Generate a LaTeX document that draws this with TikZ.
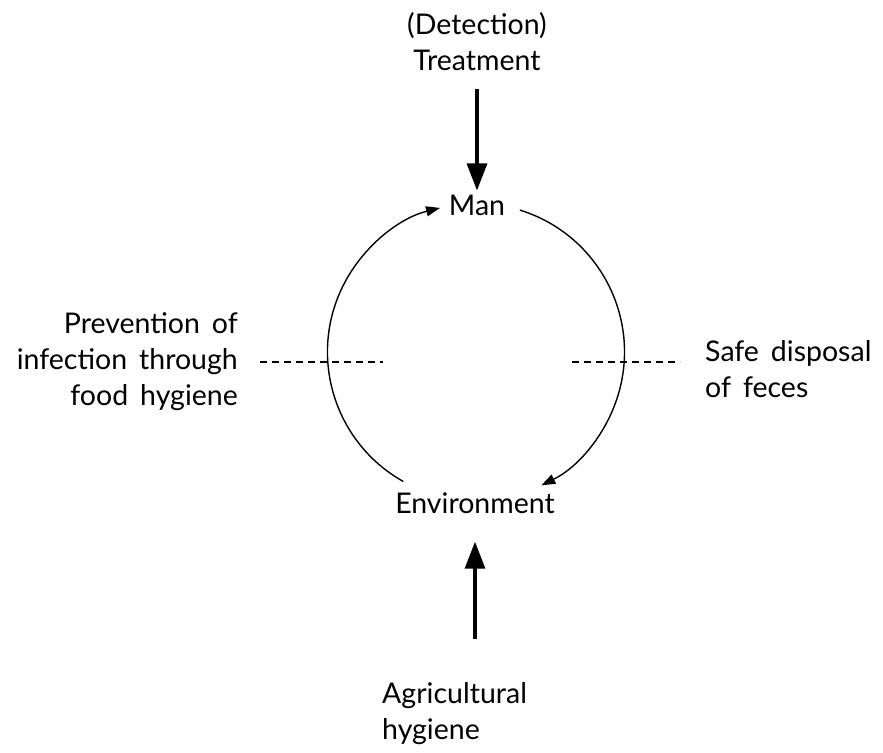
\documentclass[tikz,border=0pt]{standalone}
\usepackage{fontspec}
\setmainfont{Lato}
\usetikzlibrary{arrows.meta}
\newcommand\lblfont{\fontsize{28.5}{36}\selectfont\spaceskip=0.42em\relax}

\begin{document}
\begin{tikzpicture}[x=1pt, y=1pt,
    lbl/.style={font=\lblfont, inner sep=2pt},
    bigarrow/.style={line width=3.2pt, -{Triangle[length=27pt, width=20pt]}},
    cyclearrow/.style={line width=1.4pt, -{Triangle[length=14pt, width=10pt]}},
    dashline/.style={line width=1.2pt, dash pattern=on 7pt off 5pt}]
            \useasboundingbox (0,0) rectangle (883,752);
            \node[lbl, align=center] (treat) at (477,710) {(Detection)\\Treatment}; % top
            \node[lbl] (man) at (477,547) {Man};
            \node[lbl] (env) at (475,249) {Environment};
            \node[lbl, align=left, anchor=west] (agri) at (380,38) {Agricultural\\hygiene}; % bottom
            \node[lbl, align=right, anchor=east] (prev) at (240,390) {Prevention of\\infection through\\food hygiene}; % left
            \node[lbl, align=left, anchor=west] (safe) at (703,383) {Safe disposal\\of feces}; % right
            \coordinate (cl) at (383,390);
            \coordinate (cr) at (572,390);
            \coordinate (envl) at (403.3,270.5);
            \coordinate (manr) at (519.9,541.9);
            \draw[bigarrow, shorten <=16pt, shorten >=2pt] (treat) -- (man);
            \draw[bigarrow, shorten <=42pt, shorten >=26pt] (agri.north -| env) -- (env);
            \draw[cyclearrow] (envl) arc[start angle=240.7, end angle=104, radius=148.5]; % left half
            \draw[cyclearrow] (manr) arc[start angle=72.8, end angle=-63.9, radius=148.5]; % right half
            \draw[dashline] ([xshift=20pt]prev.east) -- (cl);
            \draw[dashline] (cr) -- ([xshift=-23pt]cr -| safe.west);
        \end{tikzpicture}
\end{document}
